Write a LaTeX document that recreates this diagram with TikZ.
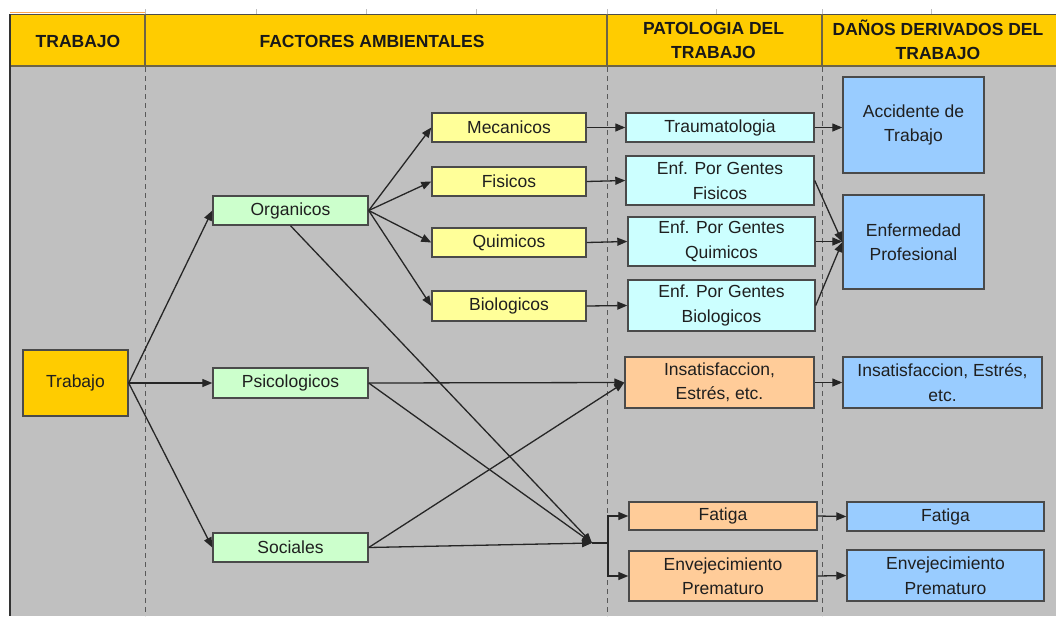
\documentclass[tikz,border=0pt]{standalone}
\usepackage{fontspec}
\setmainfont{Liberation Sans}
\usetikzlibrary{arrows.meta}
\definecolor{bggray}{HTML}{C0C0C0}
\definecolor{hdryellow}{HTML}{FFCC00}
\definecolor{cgreen}{HTML}{CCFFCC}
\definecolor{cyell}{HTML}{FFFF99}
\definecolor{ccyan}{HTML}{CCFFFF}
\definecolor{cblue}{HTML}{99CCFF}
\definecolor{corange}{HTML}{FFCC99}
\definecolor{hdrline}{HTML}{6E6446}
\definecolor{boxline}{HTML}{4A4A4A}
\begin{document}
\begin{tikzpicture}[x=1pt,y=-1pt,
  box/.style={draw=boxline, line width=1.4pt, inner sep=0pt, align=center,
    text=black!88, font=\fontsize{17.5}{24.5}\selectfont},
  hdr/.style={align=center, text=black!90, font=\bfseries\fontsize{17.5}{24}\selectfont},
  arr/.style={draw=black!85, line width=1.3pt, -{Triangle[length=10pt,width=8pt]}},
  conn/.style={draw=black!85, line width=1.3pt},
  sep/.style={draw=gray!70!black, line width=0.8pt, dash pattern=on 5pt off 4pt}]
\useasboundingbox (0,0) rectangle (1056,616);
\fill[white] (0,0) rectangle (1056,616);
% top strip ticks
\foreach \xx in {145,256,366,476,607,716,822,931}
  \draw[gray!50, line width=0.8pt] (\xx,9) -- (\xx,14);
\draw[orange!70, line width=1.2pt] (10,12.5) -- (145,12.5);
% background
\fill[bggray] (10,14) rectangle (1056,616);
% header
\fill[hdryellow] (10,14) rectangle (1056,66);
\draw[gray!60!black, line width=1pt] (10,14) -- (1056,14);
\draw[hdrline, line width=1.5pt] (10,66) -- (1056,66);
\foreach \xx in {145,607,822}
  \draw[hdrline, line width=1.5pt] (\xx,14) -- (\xx,66);
\draw[gray!40!black, line width=2pt] (10,14) -- (10,616);
% dashed column separators
\foreach \xx in {145,607,822}
  \draw[sep] (\xx,67) -- (\xx,616);
% header texts
\node[hdr] (h1) at (78,41) {TRABAJO};
\node[hdr] (h2) at (372,41) {FACTORES AMBIENTALES};
\node[hdr] (h3) at (713.5,40) {PATOLOGIA DEL\\TRABAJO};
\node[hdr] (h4) at (938,40) {DAÑOS DERIVADOS DEL\\TRABAJO};
% nodes
\node[box, fill=hdryellow, minimum width=105pt, minimum height=66pt] (trabajo) at (75.5,383) {Trabajo};
\node[box, fill=cgreen, minimum width=155pt, minimum height=29pt] (organicos) at (290.5,210.5) {Organicos};
\node[box, fill=cgreen, minimum width=155pt, minimum height=30pt] (psico) at (290.5,383) {Psicologicos};
\node[box, fill=cgreen, minimum width=155pt, minimum height=29pt] (sociales) at (290.5,547.5) {Sociales};
\node[box, fill=cyell, minimum width=154pt, minimum height=29pt] (mecanicos) at (509,127.5) {Mecanicos};
\node[box, fill=cyell, minimum width=154pt, minimum height=29pt] (fisicos) at (509,181.5) {Fisicos};
\node[box, fill=cyell, minimum width=154pt, minimum height=29pt] (quimicos) at (509,242.5) {Quimicos};
\node[box, fill=cyell, minimum width=154pt, minimum height=30pt] (biologicos) at (509,306) {Biologicos};
\node[box, fill=ccyan, minimum width=188pt, minimum height=29pt] (trauma) at (720,127.5) {Traumatologia};
\node[box, fill=ccyan, minimum width=188pt, minimum height=49pt] (enffis) at (720,180.5) {Enf. Por Gentes\\Fisicos};
\node[box, fill=ccyan, minimum width=187pt, minimum height=49pt] (enfqui) at (721.5,241.5) {Enf. Por Gentes\\Quimicos};
\node[box, fill=ccyan, minimum width=187pt, minimum height=51pt] (enfbio) at (721.5,305.5) {Enf. Por Gentes\\Biologicos};
\node[box, fill=cblue, minimum width=141pt, minimum height=96pt] (accid) at (913.5,125) {Accidente de\\Trabajo};
\node[box, fill=cblue, minimum width=141pt, minimum height=94pt] (enfprof) at (913.5,242) {Enfermedad\\Profesional};
\node[box, fill=corange, minimum width=189pt, minimum height=51pt] (insO) at (719.5,382.5) {Insatisfaccion,\\Estrés, etc.};
\node[box, fill=cblue, minimum width=199pt, minimum height=51pt] (insB) at (942.5,382.5) {Insatisfaccion, Estrés,\\etc.};
\node[box, fill=corange, minimum width=188pt, minimum height=28pt] (fatO) at (723,516) {Fatiga};
\node[box, fill=corange, minimum width=188pt, minimum height=50pt] (envO) at (723,576) {Envejecimiento\\Prematuro};
\node[box, fill=cblue, minimum width=197pt, minimum height=29pt] (fatB) at (945.5,516.5) {Fatiga};
\node[box, fill=cblue, minimum width=197pt, minimum height=51pt] (envB) at (945.5,575.5) {Envejecimiento\\Prematuro};
\coordinate (J) at (592,543);
\coordinate (Jv) at (608,543);
% connectors
\draw[arr] (trabajo.east) -- (organicos.west);
\draw[arr] (trabajo.east) -- (psico.west);
\draw[arr] (trabajo.east) -- (sociales.west);
\draw[arr] (organicos.east) -- (mecanicos.west);
\draw[arr] (organicos.east) -- (fisicos.west);
\draw[arr] (organicos.east) -- (quimicos.west);
\draw[arr] (organicos.east) -- (biologicos.west);
\draw[arr] (mecanicos.east) -- (trauma.west);
\draw[arr] (fisicos.east) -- (enffis.west);
\draw[arr] (quimicos.east) -- (enfqui.west);
\draw[arr] (biologicos.east) -- (enfbio.west);
\draw[arr] (trauma.east) -- (accid.west |- trauma.east);
\draw[arr] (enffis.east) -- (enfprof.west);
\draw[arr] (enfqui.east) -- (enfprof.west |- enfqui.east);
\draw[arr] (enfbio.east) -- (enfprof.west);
\draw[arr] (psico.east) -- (insO.west);
\draw[arr] (sociales.east) -- (insO.west);
\draw[arr] (organicos.south) -- (J);
\draw[arr] (psico.east) -- (J);
\draw[arr] (sociales.east) -- (J);
\draw[conn] (J) -- (Jv);
\draw[arr] (Jv) |- (fatO.west);
\draw[arr] (Jv) |- (envO.west);
\draw[arr] (insO.east) -- (insB.west);
\draw[arr] (fatO.east) -- (fatB.west);
\draw[arr] (envO.east) -- (envB.west);
\end{tikzpicture}
\end{document}
